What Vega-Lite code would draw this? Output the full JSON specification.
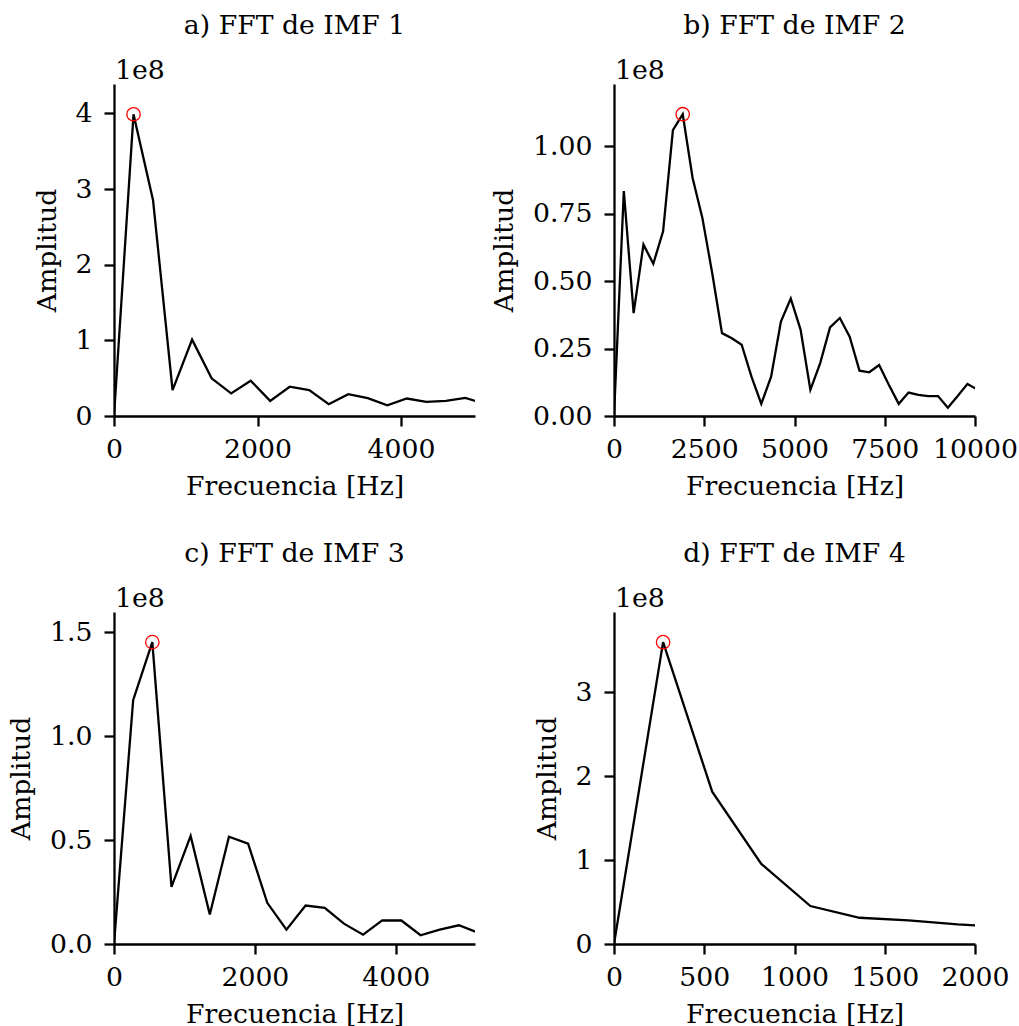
{
"$schema":"https://vega.github.io/schema/vega-lite/v6.json",
"background":"white",
"padding":{"left":8,"top":13,"right":5,"bottom":5},
"data":{"values":[
{"panel":"a","f":0,"amp":0},{"panel":"a","f":272,"amp":3.99e8},{"panel":"a","f":544,"amp":2.853e8},{"panel":"a","f":816,"amp":0.342e8},{"panel":"a","f":1088,"amp":1.009e8},{"panel":"a","f":1360,"amp":0.498e8},{"panel":"a","f":1632,"amp":0.298e8},{"panel":"a","f":1904,"amp":0.467e8},{"panel":"a","f":2176,"amp":0.2e8},{"panel":"a","f":2448,"amp":0.387e8},{"panel":"a","f":2720,"amp":0.342e8},{"panel":"a","f":2992,"amp":0.156e8},{"panel":"a","f":3264,"amp":0.289e8},{"panel":"a","f":3536,"amp":0.236e8},{"panel":"a","f":3808,"amp":0.142e8},{"panel":"a","f":4080,"amp":0.231e8},{"panel":"a","f":4352,"amp":0.187e8},{"panel":"a","f":4624,"amp":0.2e8},{"panel":"a","f":4896,"amp":0.24e8},{"panel":"a","f":5168,"amp":0.16e8},
{"panel":"b","f":0,"amp":0},{"panel":"b","f":272,"amp":0.833e8},{"panel":"b","f":544,"amp":0.381e8},{"panel":"b","f":816,"amp":0.635e8},{"panel":"b","f":1088,"amp":0.564e8},{"panel":"b","f":1360,"amp":0.684e8},{"panel":"b","f":1632,"amp":1.059e8},{"panel":"b","f":1904,"amp":1.118e8},{"panel":"b","f":2176,"amp":0.883e8},{"panel":"b","f":2448,"amp":0.734e8},{"panel":"b","f":2720,"amp":0.53e8},{"panel":"b","f":2992,"amp":0.307e8},{"panel":"b","f":3264,"amp":0.288e8},{"panel":"b","f":3536,"amp":0.264e8},{"panel":"b","f":3808,"amp":0.146e8},{"panel":"b","f":4080,"amp":0.045e8},{"panel":"b","f":4352,"amp":0.146e8},{"panel":"b","f":4624,"amp":0.35e8},{"panel":"b","f":4896,"amp":0.435e8},{"panel":"b","f":5168,"amp":0.32e8},{"panel":"b","f":5440,"amp":0.097e8},{"panel":"b","f":5712,"amp":0.196e8},{"panel":"b","f":5984,"amp":0.328e8},{"panel":"b","f":6256,"amp":0.363e8},{"panel":"b","f":6528,"amp":0.294e8},{"panel":"b","f":6800,"amp":0.168e8},{"panel":"b","f":7072,"amp":0.162e8},{"panel":"b","f":7344,"amp":0.189e8},{"panel":"b","f":7616,"amp":0.115e8},{"panel":"b","f":7888,"amp":0.045e8},{"panel":"b","f":8160,"amp":0.087e8},{"panel":"b","f":8432,"amp":0.078e8},{"panel":"b","f":8704,"amp":0.074e8},{"panel":"b","f":8976,"amp":0.074e8},{"panel":"b","f":9248,"amp":0.031e8},{"panel":"b","f":9520,"amp":0.074e8},{"panel":"b","f":9792,"amp":0.119e8},{"panel":"b","f":10064,"amp":0.098e8},
{"panel":"c","f":0,"amp":0},{"panel":"c","f":272,"amp":1.173e8},{"panel":"c","f":544,"amp":1.452e8},{"panel":"c","f":816,"amp":0.275e8},{"panel":"c","f":1088,"amp":0.52e8},{"panel":"c","f":1360,"amp":0.142e8},{"panel":"c","f":1632,"amp":0.516e8},{"panel":"c","f":1904,"amp":0.483e8},{"panel":"c","f":2176,"amp":0.198e8},{"panel":"c","f":2448,"amp":0.069e8},{"panel":"c","f":2720,"amp":0.185e8},{"panel":"c","f":2992,"amp":0.174e8},{"panel":"c","f":3264,"amp":0.098e8},{"panel":"c","f":3536,"amp":0.045e8},{"panel":"c","f":3808,"amp":0.114e8},{"panel":"c","f":4080,"amp":0.113e8},{"panel":"c","f":4352,"amp":0.042e8},{"panel":"c","f":4624,"amp":0.069e8},{"panel":"c","f":4896,"amp":0.09e8},{"panel":"c","f":5168,"amp":0.055e8},
{"panel":"d","f":0,"amp":0},{"panel":"d","f":272,"amp":3.6e8},{"panel":"d","f":544,"amp":1.817e8},{"panel":"d","f":816,"amp":0.955e8},{"panel":"d","f":1088,"amp":0.453e8},{"panel":"d","f":1360,"amp":0.313e8},{"panel":"d","f":1632,"amp":0.281e8},{"panel":"d","f":1904,"amp":0.233e8},{"panel":"d","f":2176,"amp":0.2e8}
]},
"columns":2,
"spacing":{"row":196,"column":139},
"bounds":"flush",
"concat":[
{"width":361,"height":332,"title":{"text":"a) FFT de IMF 1"},
 "layer":[
  {"transform":[{"filter":"datum.panel === 'a'"}],
   "mark":{"type":"line","color":"black","strokeWidth":2.3,"clip":true},
   "encoding":{
    "x":{"field":"f","type":"quantitative","scale":{"domain":[0,5030],"nice":false,"zero":false},"axis":{"title":"Frecuencia [Hz]","values":[0,2000,4000],"format":"d"}},
    "y":{"field":"amp","type":"quantitative","scale":{"domain":[0,4.39e8],"nice":false},"axis":{"title":"Amplitud","values":[0,1e8,2e8,3e8,4e8],"labelExpr":"format(datum.value/1e8,'d')"}}}},
  {"transform":[{"filter":"datum.panel === 'a'"},{"joinaggregate":[{"op":"max","field":"amp","as":"mx"}]},{"filter":"datum.amp === datum.mx"}],
   "mark":{"type":"point","shape":"circle","filled":false,"color":"red","size":180,"strokeWidth":1.3,"opacity":1},
   "encoding":{"x":{"field":"f","type":"quantitative"},"y":{"field":"amp","type":"quantitative"}}},
  {"data":{"values":[{"t":"1e8"}]},
   "mark":{"type":"text","align":"left","baseline":"alphabetic","dx":1,"dy":-5,"fontSize":26.7,"font":"DejaVu Serif","color":"black"},
   "encoding":{"x":{"datum":0,"type":"quantitative"},"y":{"datum":4.39e8,"type":"quantitative"},"text":{"field":"t"}}}
 ]},
{"width":361,"height":332,"title":{"text":"b) FFT de IMF 2"},
 "layer":[
  {"transform":[{"filter":"datum.panel === 'b'"}],
   "mark":{"type":"line","color":"black","strokeWidth":2.3,"clip":true},
   "encoding":{
    "x":{"field":"f","type":"quantitative","scale":{"domain":[0,10000],"nice":false,"zero":false},"axis":{"title":"Frecuencia [Hz]","values":[0,2500,5000,7500,10000],"format":"d"}},
    "y":{"field":"amp","type":"quantitative","scale":{"domain":[0,1.23e8],"nice":false},"axis":{"title":"Amplitud","values":[0,0.25e8,0.5e8,0.75e8,1e8],"labelExpr":"format(datum.value/1e8,'.2f')"}}}},
  {"transform":[{"filter":"datum.panel === 'b'"},{"joinaggregate":[{"op":"max","field":"amp","as":"mx"}]},{"filter":"datum.amp === datum.mx"}],
   "mark":{"type":"point","shape":"circle","filled":false,"color":"red","size":180,"strokeWidth":1.3,"opacity":1},
   "encoding":{"x":{"field":"f","type":"quantitative"},"y":{"field":"amp","type":"quantitative"}}},
  {"data":{"values":[{"t":"1e8"}]},
   "mark":{"type":"text","align":"left","baseline":"alphabetic","dx":1,"dy":-5,"fontSize":26.7,"font":"DejaVu Serif","color":"black"},
   "encoding":{"x":{"datum":0,"type":"quantitative"},"y":{"datum":1.23e8,"type":"quantitative"},"text":{"field":"t"}}}
 ]},
{"width":361,"height":332,"title":{"text":"c) FFT de IMF 3"},
 "layer":[
  {"transform":[{"filter":"datum.panel === 'c'"}],
   "mark":{"type":"line","color":"black","strokeWidth":2.3,"clip":true},
   "encoding":{
    "x":{"field":"f","type":"quantitative","scale":{"domain":[0,5125],"nice":false,"zero":false},"axis":{"title":"Frecuencia [Hz]","values":[0,2000,4000],"format":"d"}},
    "y":{"field":"amp","type":"quantitative","scale":{"domain":[0,1.597e8],"nice":false},"axis":{"title":"Amplitud","values":[0,0.5e8,1e8,1.5e8],"labelExpr":"format(datum.value/1e8,'.1f')"}}}},
  {"transform":[{"filter":"datum.panel === 'c'"},{"joinaggregate":[{"op":"max","field":"amp","as":"mx"}]},{"filter":"datum.amp === datum.mx"}],
   "mark":{"type":"point","shape":"circle","filled":false,"color":"red","size":180,"strokeWidth":1.3,"opacity":1},
   "encoding":{"x":{"field":"f","type":"quantitative"},"y":{"field":"amp","type":"quantitative"}}},
  {"data":{"values":[{"t":"1e8"}]},
   "mark":{"type":"text","align":"left","baseline":"alphabetic","dx":1,"dy":-5,"fontSize":26.7,"font":"DejaVu Serif","color":"black"},
   "encoding":{"x":{"datum":0,"type":"quantitative"},"y":{"datum":1.597e8,"type":"quantitative"},"text":{"field":"t"}}}
 ]},
{"width":361,"height":332,"title":{"text":"d) FFT de IMF 4"},
 "layer":[
  {"transform":[{"filter":"datum.panel === 'd'"}],
   "mark":{"type":"line","color":"black","strokeWidth":2.3,"clip":true},
   "encoding":{
    "x":{"field":"f","type":"quantitative","scale":{"domain":[0,2000],"nice":false,"zero":false},"axis":{"title":"Frecuencia [Hz]","values":[0,500,1000,1500,2000],"format":"d"}},
    "y":{"field":"amp","type":"quantitative","scale":{"domain":[0,3.96e8],"nice":false},"axis":{"title":"Amplitud","values":[0,1e8,2e8,3e8],"labelExpr":"format(datum.value/1e8,'d')"}}}},
  {"transform":[{"filter":"datum.panel === 'd'"},{"joinaggregate":[{"op":"max","field":"amp","as":"mx"}]},{"filter":"datum.amp === datum.mx"}],
   "mark":{"type":"point","shape":"circle","filled":false,"color":"red","size":180,"strokeWidth":1.3,"opacity":1},
   "encoding":{"x":{"field":"f","type":"quantitative"},"y":{"field":"amp","type":"quantitative"}}},
  {"data":{"values":[{"t":"1e8"}]},
   "mark":{"type":"text","align":"left","baseline":"alphabetic","dx":1,"dy":-5,"fontSize":26.7,"font":"DejaVu Serif","color":"black"},
   "encoding":{"x":{"datum":0,"type":"quantitative"},"y":{"datum":3.96e8,"type":"quantitative"},"text":{"field":"t"}}}
 ]}
],
"config":{
 "font":"DejaVu Serif",
 "view":{"stroke":null},
 "axis":{"domainColor":"black","domainWidth":2.3,"tickColor":"black","tickWidth":2.3,"tickSize":10,"labelFont":"DejaVu Serif","labelFontSize":26.7,"labelColor":"black","titleFont":"DejaVu Serif","titleFontSize":26.7,"titleFontWeight":"normal","titleColor":"black","grid":false,"labelFlush":false,"labelOverlap":false,"labelBound":false},
 "axisX":{"labelPadding":10,"titlePadding":11},
 "axisY":{"labelPadding":12,"titlePadding":14},
 "title":{"fontSize":26.7,"fontWeight":"normal","color":"black","font":"DejaVu Serif","anchor":"middle","frame":"group","baseline":"alphabetic","offset":18}
}
}
